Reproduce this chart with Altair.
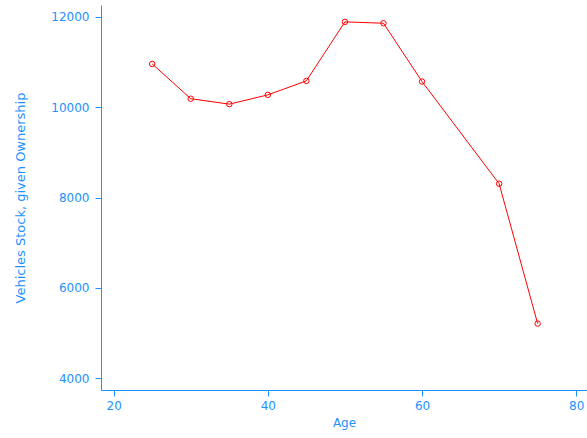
import altair as alt
import pandas as pd

# Vehicle stock by age of owner
age = [25, 30, 35, 40, 45, 50, 55, 60, 70, 75]
stock = [10955, 10185, 10065, 10270, 10580, 11885, 11855, 10565, 8305, 5210]

df = pd.DataFrame({"Age": age, "Stock": stock})

blue = "#1E90FF"
font = "DejaVu Sans"

x = alt.X(
    "Age:Q",
    title="Age",
    scale=alt.Scale(domain=[18.36, 81.4], nice=False, zero=False),
    axis=alt.Axis(values=[20, 40, 60, 80], grid=False, domainColor=blue, tickColor=blue,
                  labelColor=blue, titleColor=blue, tickSize=6, labelPadding=4,
                  labelFont=font, titleFont=font, labelFontSize=12, titleFontSize=12,
                  titleFontWeight="normal", titlePadding=6, format="d"),
)
y = alt.Y(
    "Stock:Q",
    title="Vehicles Stock, given Ownership",
    scale=alt.Scale(domain=[3742, 12258], nice=False, zero=False),
    axis=alt.Axis(values=[4000, 6000, 8000, 10000, 12000], grid=False, domainColor=blue,
                  tickColor=blue, labelColor=blue, titleColor=blue, tickSize=6, labelPadding=6,
                  labelFont=font, titleFont=font, labelFontSize=12, titleFontSize=13,
                  titleFontWeight="normal", titlePadding=23, format="d"),
)

line = alt.Chart(df).mark_line(color="red", strokeWidth=1).encode(x=x, y=y)
pts = alt.Chart(df).mark_point(color="red", size=30, strokeWidth=1, filled=False, opacity=1).encode(x=x, y=y)

chart = (
    alt.layer(line, pts, view=alt.ViewBackground(strokeWidth=0, stroke="transparent"))
    .properties(width=486, height=385, autosize=alt.AutoSizeParams(type="none"),
                padding={"left": 101, "top": 5, "right": 0, "bottom": 48})
    .configure_view(strokeWidth=0)
    .configure(background="white")
)

chart.save("out.html", embed_options={"renderer": "svg", "actions": False})
